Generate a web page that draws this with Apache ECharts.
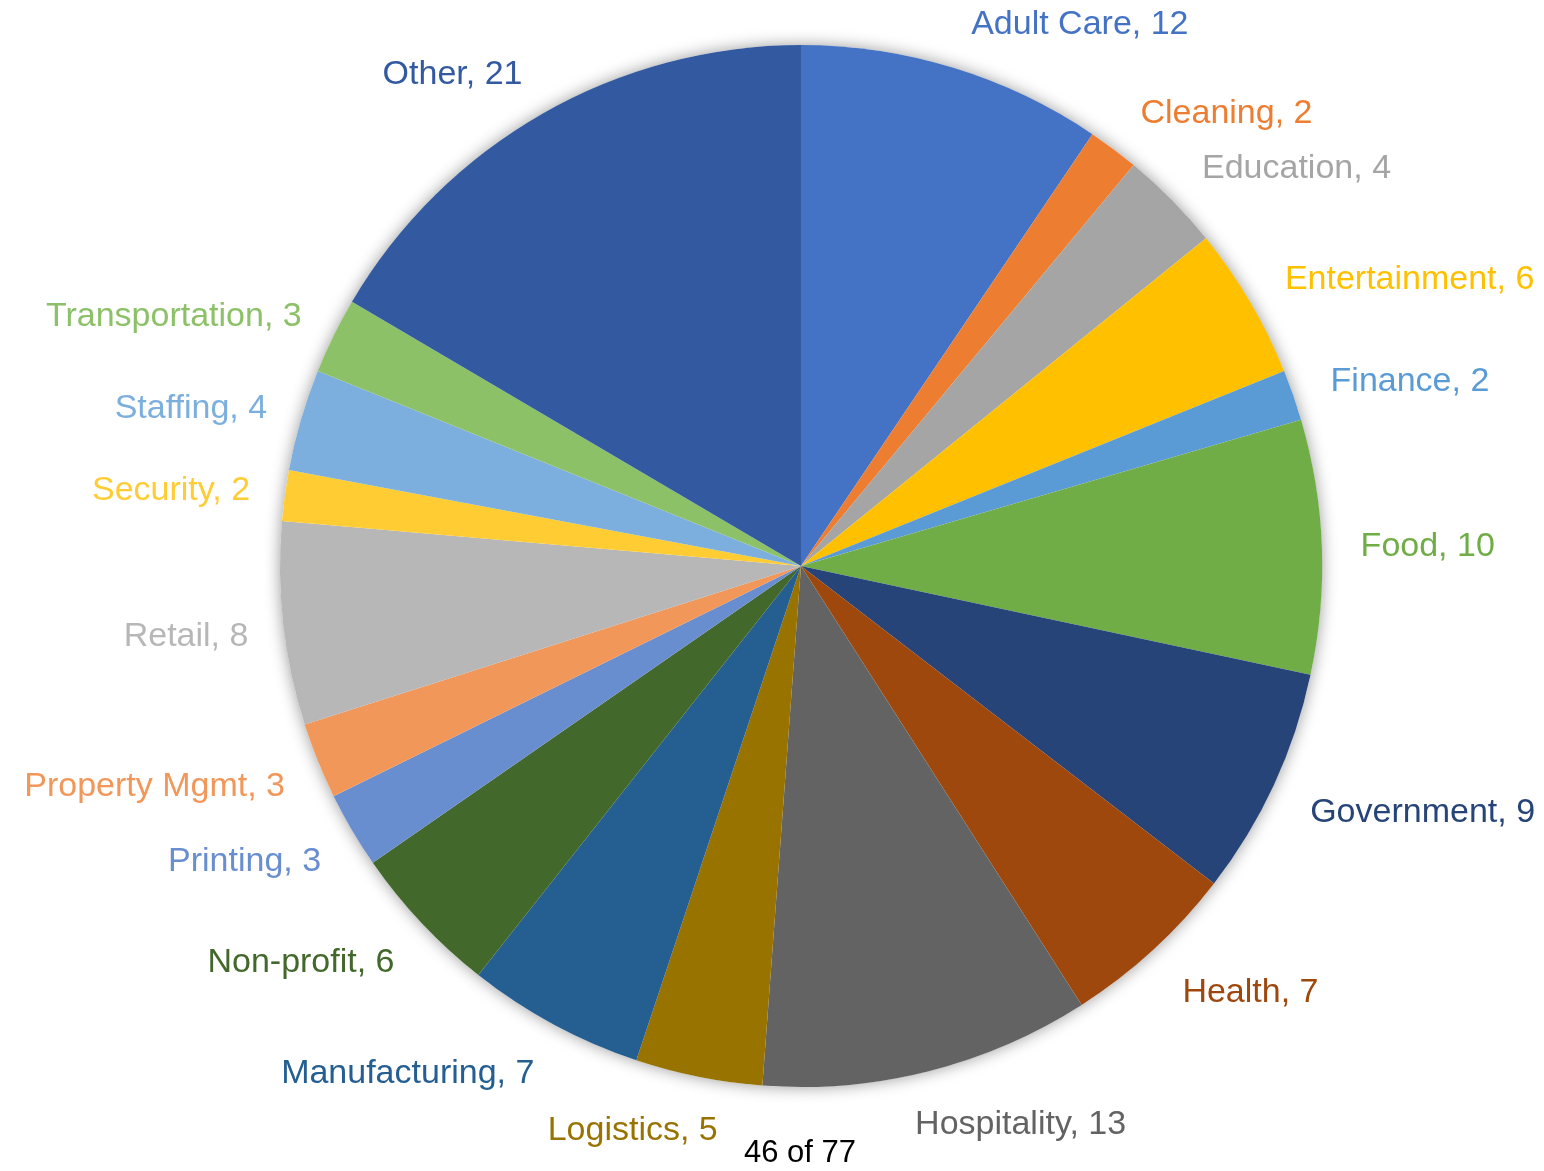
<!DOCTYPE html>
<html>
<head>
<meta charset="utf-8">
<title>Industries</title>
<script src="https://cdn.jsdelivr.net/npm/echarts@6/dist/echarts.min.js"></script>
<style>
  html, body { margin: 0; padding: 0; background: #ffffff; }
  #chart { width: 1544px; height: 1171px; }
</style>
</head>
<body>
<div id="chart"></div>
<script>
// Industry categories and counts, clockwise from 12 o'clock
const categories = [
  'Adult Care', 'Cleaning', 'Education', 'Entertainment', 'Finance', 'Food',
  'Government', 'Health', 'Hospitality', 'Logistics', 'Manufacturing',
  'Non-profit', 'Printing', 'Property Mgmt', 'Retail', 'Security',
  'Staffing', 'Transportation', 'Other'
];
const counts = [12, 2, 4, 6, 2, 10, 9, 7, 13, 5, 7, 6, 3, 3, 8, 2, 4, 3, 21];
const sliceColors = [
  '#4472C4', '#ED7D31', '#A5A5A5', '#FFC000', '#5B9BD5', '#70AD47',
  '#264478', '#9E480E', '#636363', '#997300', '#255E91', '#43682B',
  '#698ED0', '#F1975A', '#B7B7B7', '#FFCD33', '#7CAFDD', '#8CC168',
  '#335AA1'
];
const footnote = '46 of 77';

const PIE_CENTER = [801, 566];
const PIE_RADIUS = 521;

const pieData = categories.map((name, i) => ({
  name: name,
  value: counts[i],
  itemStyle: { color: sliceColors[i] },
  label: { color: sliceColors[i] }
}));

// Mid angle of every slice, in radians clockwise from 12 o'clock
const total = counts.reduce((a, b) => a + b, 0);
const midAngles = [];
counts.reduce((acc, v) => {
  midAngles.push((acc + v / 2) / total * Math.PI * 2);
  return acc + v;
}, 0);

// Set each label so its near edge (rather than its middle) sits by the slice;
// labels close to 6 o'clock are pulled towards the middle of the chart.
function edgeAnchoredLabel(params) {
  const r = params.labelRect;
  const a = midAngles[params.dataIndex];
  const s = Math.sin(a);
  const c = Math.cos(a);
  const dy = -c * r.height / 2 + (c < 0 ? 8 : 2);
  let dx = s > 0 ? 4 : 0;
  if (c < 0 && Math.abs(s) < 0.3) {
    dx = -s * r.width * (s < 0 ? 0.9 : 0.5);
  }
  return { dx: dx, dy: dy };
}

const chart = echarts.init(document.getElementById('chart'), null, { renderer: 'canvas' });

chart.setOption({
  animation: false,
  backgroundColor: '#ffffff',
  title: {
    text: footnote,
    left: 744,
    top: 1138,
    padding: 0,
    textStyle: {
      fontFamily: 'Liberation Sans, Arial, sans-serif',
      fontSize: 31,
      fontWeight: 'normal',
      color: '#000000'
    }
  },
  series: [
    {
      // soft drop shadow behind the whole pie
      type: 'pie',
      silent: true,
      z: 1,
      center: PIE_CENTER,
      radius: [0, PIE_RADIUS],
      label: { show: false },
      labelLine: { show: false },
      itemStyle: {
        color: '#ffffff',
        shadowBlur: 16,
        shadowColor: 'rgba(0,0,0,0.4)'
      },
      emphasis: { disabled: true },
      data: [{ value: 1, name: '' }]
    },
    {
      type: 'pie',
      z: 2,
      center: PIE_CENTER,
      radius: [0, PIE_RADIUS],
      startAngle: 90,
      clockwise: true,
      avoidLabelOverlap: true,
      minShowLabelAngle: 0,
      itemStyle: { borderWidth: 0 },
      label: {
        show: true,
        position: 'outside',
        formatter: '{b}, {c}',
        overflow: 'none',
        fontFamily: 'Liberation Sans, Arial, sans-serif',
        fontSize: 34
      },
      labelLine: { show: false, length: 30, length2: 0 },
      labelLayout: edgeAnchoredLabel,
      emphasis: { disabled: true },
      data: pieData
    }
  ]
});
</script>
</body>
</html>
